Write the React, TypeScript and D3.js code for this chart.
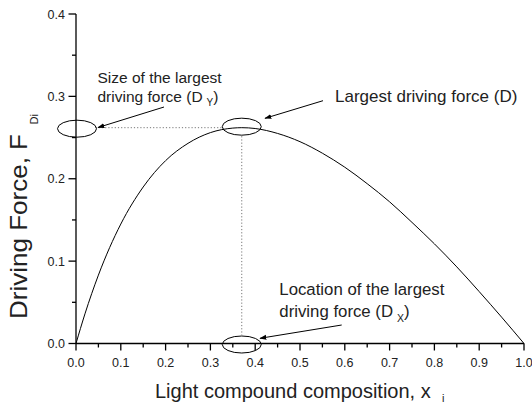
import React from "react";
import * as d3 from "d3";

// Data
const compositionX = [0, 0.02, 0.05, 0.1, 0.15, 0.2, 0.25, 0.3, 0.35, 0.37, 0.4, 0.45, 0.5, 0.55, 0.6, 0.65, 0.7, 0.75, 0.8, 0.85, 0.9, 0.95, 1.0];
const drivingForce = [0, 0.036, 0.083, 0.145, 0.19, 0.222, 0.243, 0.256, 0.2615, 0.262, 0.261, 0.255, 0.245, 0.231, 0.214, 0.194, 0.172, 0.147, 0.121, 0.093, 0.063, 0.032, 0];
const peakX = 0.37;
const peakF = 0.262;
const xTicks = [0, 0.1, 0.2, 0.3, 0.4, 0.5, 0.6, 0.7, 0.8, 0.9, 1.0];
const yTicks = [0, 0.1, 0.2, 0.3, 0.4];
const xMinor = [0.05, 0.15, 0.25, 0.35, 0.45, 0.55, 0.65, 0.75, 0.85, 0.95];
const yMinor = [0.05, 0.15, 0.25, 0.35];

const FONT = "'Liberation Sans', Arial, Helvetica, sans-serif";

export default function App() {
  const W = 532, H = 404;
  const x = d3.scaleLinear().domain([0, 1]).range([76, 524]);
  const y = d3.scaleLinear().domain([0, 0.4]).range([343.5, 14]);
  const pts = compositionX.map((v, i) => [v, drivingForce[i]] as [number, number]);
  const line = d3.line<[number, number]>().x(d => x(d[0])).y(d => y(d[1])).curve(d3.curveMonotoneX);
  const rx = 19.5, ry = 8.5;
  const px = x(peakX), py = y(peakF);
  const axisW = 1.3;
  return (
    <svg width={W} height={H} style={{ position: "absolute", left: 0, top: 0, background: "#fff" }} fontFamily={FONT}>
      <defs>
        <marker id="ah" viewBox="0 0 10 10" refX="9" refY="5" markerWidth="7" markerHeight="7" markerUnits="userSpaceOnUse" orient="auto">
          <path d="M0,1.5 L10,5 L0,8.5 z" fill="#000" />
        </marker>
      </defs>
      {/* axes */}
      <line x1={x(0)} x2={x(1)} y1={y(0)} y2={y(0)} stroke="#000" strokeWidth={axisW} />
      <line x1={x(0)} x2={x(0)} y1={y(0)} y2={y(0.4)} stroke="#000" strokeWidth={axisW} />
      {xTicks.map(t => (
        <g key={"xt" + t}>
          <line x1={x(t)} x2={x(t)} y1={y(0)} y2={y(0) + 7} stroke="#000" strokeWidth={axisW} />
          <text x={x(t)} y={367} fontSize={12.5} textAnchor="middle" fill="#222">{t.toFixed(1)}</text>
        </g>
      ))}
      {xMinor.map(t => (
        <line key={"xm" + t} x1={x(t)} x2={x(t)} y1={y(0)} y2={y(0) + 4} stroke="#000" strokeWidth={axisW} />
      ))}
      {yTicks.map(t => (
        <g key={"yt" + t}>
          <line x1={x(0) - 7.5} x2={x(0)} y1={y(t)} y2={y(t)} stroke="#000" strokeWidth={axisW} />
          <text x={65} y={y(t)} dy="0.36em" fontSize={12.5} textAnchor="end" fill="#222">{t.toFixed(1)}</text>
        </g>
      ))}
      {yMinor.map(t => (
        <line key={"ym" + t} x1={x(0) - 4} x2={x(0)} y1={y(t)} y2={y(t)} stroke="#000" strokeWidth={axisW} />
      ))}

      {/* curve */}
      <path d={line(pts) || ""} fill="none" stroke="#000" strokeWidth={1} />

      {/* dotted guides */}
      <line x1={x(0) + rx} x2={px - rx} y1={py} y2={py} stroke="#777" strokeWidth={1} strokeDasharray="1.2,2" />
      <line x1={px} x2={px} y1={py + ry} y2={y(0) - ry} stroke="#777" strokeWidth={1} strokeDasharray="1.2,2" />

      {/* ellipses */}
      <ellipse cx={x(0) + 1} cy={py + 1} rx={rx} ry={ry} fill="none" stroke="#000" strokeWidth={1} />
      <ellipse cx={px} cy={py - 1} rx={rx} ry={ry} fill="none" stroke="#000" strokeWidth={1} />
      <ellipse cx={px} cy={y(0) + 1} rx={rx} ry={ry} fill="none" stroke="#000" strokeWidth={1} />

      {/* arrows */}
      <line x1={164} y1={107} x2={98} y2={127.5} stroke="#000" strokeWidth={1} markerEnd="url(#ah)" />
      <line x1={323} y1={100.7} x2={265} y2={118.3} stroke="#000" strokeWidth={1} markerEnd="url(#ah)" />
      <line x1={341.7} y1={325} x2={260} y2={338.3} stroke="#000" strokeWidth={1} markerEnd="url(#ah)" />

      {/* annotations */}
      <text x={97.5} y={83.3} fontSize={15.5} fill="#222">Size of the largest</text>
      <text x={97.5} y={102.3} fontSize={15.5} fill="#222">
        driving force (D<tspan fontSize={10} dx={4} dy={4}>Y</tspan><tspan dy={-4}>)</tspan>
      </text>
      <text x={335} y={102} fontSize={17} fill="#222">Largest driving force (D)</text>
      <text x={279.3} y={295} fontSize={16.8} fill="#222">Location of the largest</text>
      <text x={279.3} y={316.7} fontSize={16.8} fill="#222">
        driving force (D<tspan fontSize={10.5} dx={4} dy={5}>X</tspan><tspan dy={-5}>)</tspan>
      </text>

      {/* axis titles */}
      <text x={155} y={398} fontSize={20} fill="#222">Light compound composition, x</text>
      <text x={442} y={402} fontSize={11} fill="#222">i</text>
      <text transform="translate(27,319) rotate(-90)" x={0} y={0} fontSize={24} textLength={185} lengthAdjust="spacingAndGlyphs" fill="#222">Driving Force, F</text>
      <text transform="translate(38,124.5) rotate(-90)" x={0} y={0} fontSize={11} fill="#222">Di</text>
    </svg>
  );
}
